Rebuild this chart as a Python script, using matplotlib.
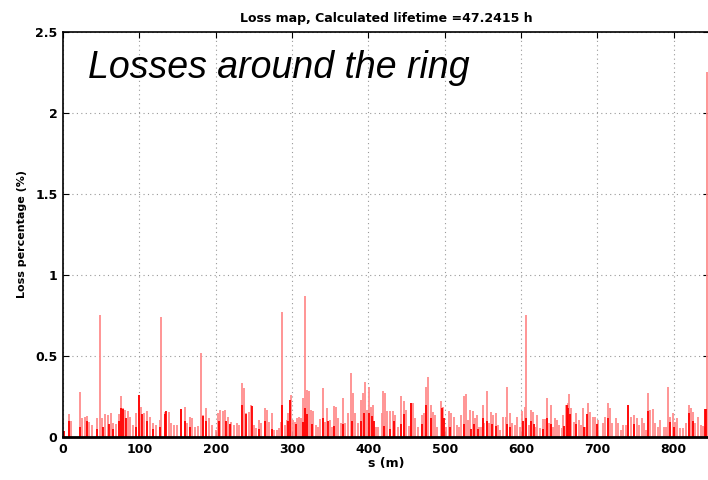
import matplotlib
matplotlib.use("Agg")
import matplotlib.pyplot as plt
import numpy as np

plt.rcParams['font.family'] = ['DejaVu Sans']

# loss per element position along the ring (s in m, loss in %)
s_loss = [8, 11, 22, 25, 29, 31, 34, 37.5, 44, 48.5, 51.6, 55, 59.5, 62.6, 65.7, 69.2,
          72.8, 75.9, 78, 81.6, 84.7, 87.8, 91.3, 95.7, 100, 102.8, 106.7, 110.2, 114.2,
          117.7, 122, 126.6, 129,
          133, 134, 138.4, 142, 145.5, 150, 154.3, 159.6, 163, 166.2, 168.4, 172.8, 176.3,
          180.8, 183, 187, 191.3, 194.9, 200, 203.7, 205.9, 209, 212.5, 216, 220.4, 223.5,
          228, 231, 234.6, 236.8, 240, 243.4, 246.9, 250, 253, 256.6, 260, 264.5, 267.6,
          269.8, 274.2, 276.4, 280, 283, 285.3, 287.5, 290.5, 293.2, 295, 298.5, 300.7,
          303.8, 306.4, 309.5, 311.7, 314, 317, 319.7, 321.9, 325, 328, 331.6, 334.6, 337.3,
          340.4, 343.5, 346.1, 349.2, 352.7, 355, 357.1, 360.2, 363.7, 366.8, 369.9, 373.5,
          377, 380, 383.2, 386.7, 390.2, 393.3, 395.5, 397.7, 400.8, 403.4, 406.5,
          410, 413.1, 417.5, 419.7, 422, 425, 428.6, 432.1, 435.2, 438.3, 443.1, 446.2,
          449.7, 452.8, 455.9, 458.5, 461.6, 464.7, 470.5, 472.7, 475.7, 478, 481.5, 484.6,
          487.2, 490.3, 495.6, 498.2, 501.3, 505.7, 508.8, 512.4, 515.9, 519, 522, 525.6,
          527.8, 530.9, 533.5, 536.6, 539.7, 542.3, 545.4,
          547.6, 549.8, 552, 555.1, 557.8, 560.8, 564, 567.5, 569.7, 572.8, 576.3, 579.8,
          581.6, 585.1, 588.6, 591.7, 594.8, 598.3, 601.9, 605, 607.2, 610.7, 612.9, 616,
          619.5, 621.3, 624.8, 628.3, 631.4, 633.6, 637.1, 638.9, 642.4, 644.6, 646.8,
          650.4, 653.5, 655.7, 659.2, 661, 663.6, 665.8, 669, 672.4, 675.5, 678.6, 681.2,
          684.3, 687.4, 691, 694.4, 697.5, 700.6, 707.7, 710.7, 713.8, 716.5, 719.6, 724,
          727, 730.6, 734, 737.2, 740.3, 744.7, 748.2, 751.8, 754.8, 758, 761.5, 763.7,
          766.8, 769.4, 772.5, 775.6, 779, 782.6, 787, 790, 793.2, 795.9, 799, 802, 804.7,
          809, 812.2, 816.6, 819.7, 822.3, 825.4, 828.5, 832, 835.5, 838.6, 841.7, 843.4]
loss = [0.14, 0.10, 0.276, 0.115, 0.125, 0.13, 0.095, 0.074, 0.115, 0.755, 0.12, 0.142,
        0.136, 0.146, 0.084, 0.08, 0.142, 0.253, 0.177, 0.167, 0.163, 0.125, 0.074, 0.146,
        0.26, 0.187, 0.146, 0.16, 0.125, 0.084, 0.074, 0.105, 0.74,
        0.10, 0.156, 0.156, 0.088, 0.074, 0.074, 0.173, 0.187, 0.084, 0.125, 0.115, 0.064,
        0.068, 0.52, 0.136, 0.177, 0.115, 0.074, 0.043, 0.146, 0.167, 0.163, 0.167, 0.125,
        0.095, 0.074, 0.084, 0.074, 0.335, 0.30, 0.146, 0.156, 0.2, 0.074, 0.053, 0.105,
        0.084, 0.177, 0.167,
        0.095, 0.15, 0.043, 0.043, 0.053, 0.095, 0.77, 0.074, 0.105, 0.146, 0.26, 0.105,
        0.095, 0.12, 0.125, 0.115, 0.24, 0.87, 0.29, 0.286, 0.167, 0.163, 0.074, 0.064,
        0.11, 0.30, 0.095, 0.177, 0.105, 0.064, 0.19, 0.187, 0.115, 0.084, 0.24, 0.084,
        0.146, 0.397, 0.27, 0.146, 0.084, 0.228, 0.274, 0.34, 0.167, 0.31, 0.187, 0.2,
        0.064, 0.064, 0.146, 0.286, 0.27, 0.163, 0.163, 0.163, 0.136, 0.064, 0.253, 0.224,
        0.167, 0.068, 0.21, 0.208, 0.115, 0.064, 0.136, 0.146, 0.31, 0.372, 0.2, 0.156,
        0.136, 0.064, 0.224, 0.187, 0.064, 0.163, 0.146, 0.125, 0.074, 0.064, 0.136, 0.25,
        0.265, 0.105, 0.167, 0.163, 0.115, 0.136, 0.064,
        0.064, 0.2, 0.084, 0.286, 0.084, 0.156, 0.136, 0.146, 0.074, 0.043, 0.125, 0.125,
        0.31, 0.146, 0.084, 0.074, 0.125, 0.064, 0.163, 0.187, 0.755, 0.074, 0.167, 0.156,
        0.064, 0.136, 0.053, 0.11, 0.11, 0.24, 0.084, 0.2, 0.064, 0.115, 0.105,
        0.074, 0.053, 0.136, 0.2, 0.208, 0.265, 0.177, 0.095, 0.146, 0.105, 0.074, 0.177,
        0.064, 0.208, 0.156, 0.125, 0.125, 0.105, 0.084, 0.125, 0.21, 0.177, 0.084, 0.115,
        0.084, 0.043, 0.074, 0.074, 0.2, 0.125, 0.136, 0.115, 0.074, 0.115, 0.084, 0.043,
        0.274, 0.167, 0.17, 0.084, 0.064, 0.105, 0.064, 0.064, 0.31, 0.125, 0.15, 0.095,
        0.115, 0.053, 0.053, 0.084, 0.2, 0.177, 0.156, 0.084, 0.125, 0.074, 0.068, 0.064,
        2.25]

# denser groups of elements, drawn in full red
s_dense = [1, 8, 22, 31, 44, 52, 60, 66, 73, 76, 79, 83, 95, 100, 103, 110, 118, 127,
           133, 135, 154, 160, 166, 183, 187, 204, 213, 219, 235, 240, 247, 257, 265,
           274, 287, 295, 298, 305, 314, 317, 320, 326, 340, 347, 355, 367, 378, 390, 395,
           401, 405, 407, 420, 428, 434, 443, 447, 456, 471, 476, 482, 496, 499, 507, 526,
           534, 539, 544, 550, 556, 562, 567, 582, 586, 603, 606, 613, 617, 629, 634, 639,
           656, 660, 662, 664, 672, 682, 687, 700, 714, 740, 748, 767, 795, 800, 820, 825,
           841, 842.5]
loss_dense = [0.04, 0.10, 0.06, 0.10, 0.05, 0.06, 0.08, 0.05, 0.10, 0.18, 0.17, 0.12, 0.06,
              0.26, 0.14, 0.10, 0.05, 0.06,
              0.14, 0.16, 0.17, 0.10, 0.06, 0.13, 0.10, 0.10, 0.10, 0.08, 0.20, 0.14, 0.19,
              0.05, 0.10,
              0.05, 0.20, 0.10, 0.23, 0.08, 0.09, 0.18, 0.14, 0.08, 0.12, 0.10, 0.07, 0.08,
              0.10, 0.10, 0.15, 0.15, 0.13, 0.10, 0.07, 0.05, 0.10, 0.08, 0.14, 0.21, 0.08,
              0.20, 0.12, 0.18, 0.12, 0.06, 0.08, 0.05, 0.08, 0.05, 0.12, 0.10, 0.08, 0.07,
              0.08, 0.06, 0.10, 0.12, 0.10, 0.08, 0.05, 0.12, 0.08, 0.07, 0.20, 0.18, 0.14,
              0.08, 0.06, 0.14, 0.08, 0.12, 0.20, 0.08, 0.16, 0.09, 0.06, 0.15, 0.10,
              0.17, 0.17]

lifetime = 47.2415
circumference = 846

fig = plt.figure(figsize=(7.08, 4.8), dpi=100)
ax = fig.add_axes([0.089, 0.0896, 0.912, 0.844])

ax.vlines(s_loss, 0, loss, color='#ff8c8c', linewidth=1.3)
ax.vlines(s_dense, 0, loss_dense, color='#ff0000', linewidth=1.3)

ax.set_xlim(0, circumference)
ax.set_ylim(0, 2.5)
ax.set_xticks(np.arange(0, 900, 100))
ax.set_yticks([0, 0.5, 1, 1.5, 2, 2.5])
ax.set_yticklabels(['0', '0.5', '1', '1.5', '2', '2.5'])
ax.grid(True, linestyle=(0, (1, 3)), color='#999999', linewidth=0.8)
ax.tick_params(direction='in', top=True, right=True, length=4, labelsize=9, pad=4)
for lbl in ax.get_xticklabels() + ax.get_yticklabels():
    lbl.set_fontweight('bold')
for sp in ax.spines.values():
    sp.set_linewidth(1.2)
ax.spines['bottom'].set_linewidth(2)

ax.set_title('Loss map, Calculated lifetime =%g h' % lifetime, fontsize=9,
             fontweight='bold', pad=7)
ax.set_xlabel('s (m)', fontsize=9, fontweight='bold', labelpad=1)
ax.set_ylabel('Loss percentage (%)', fontsize=8, fontweight='bold', labelpad=6)

ax.text(33, 2.28, 'Losses around the ring', fontsize=27, style='italic',
        family='Liberation Sans', va='center', ha='left')

fig.savefig('out.png', dpi=100)
